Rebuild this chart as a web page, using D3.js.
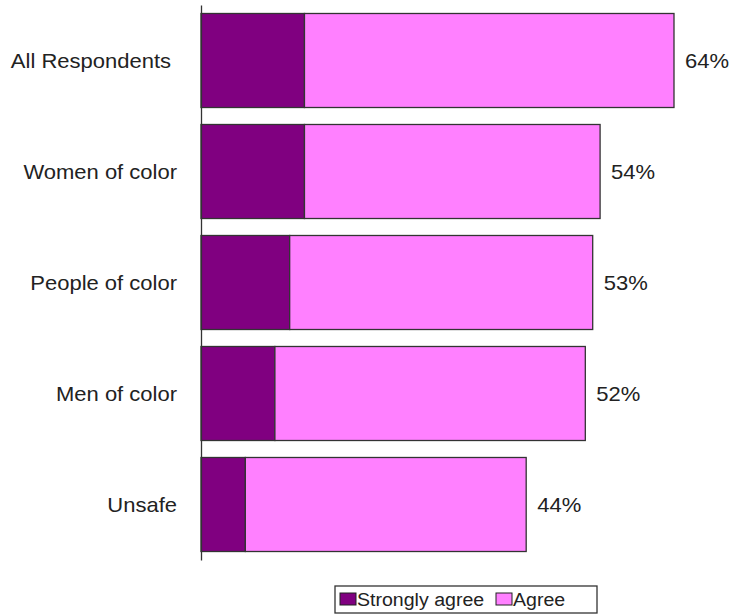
<!DOCTYPE html>
<html>
<head>
<meta charset="utf-8">
<script src="https://cdn.jsdelivr.net/npm/d3@7"></script>
<style>
  html, body { margin: 0; padding: 0; background: #fff; }
  svg { display: block; font-family: Arial, "Liberation Sans", Helvetica, sans-serif; }
</style>
</head>
<body>
<svg id="chart" width="734" height="614"></svg>
<script>
// Groups, top to bottom
const categories = ["All Respondents", "Women of color", "People of color", "Men of color", "Unsafe"];
// Percent who strongly agree and percent who agree (sum = total shown)
const stronglyAgree = [14, 14, 12, 10, 6];
const agree = [50, 40, 41, 42, 38];
const totalLabels = ["64%", "54%", "53%", "52%", "44%"];
const seriesNames = ["Strongly agree", "Agree"];
const seriesColors = ["#800080", "#FF80FF"];

const svg = d3.select("#chart");
const axisX = 201;
const stretch = 1.1; // slightly wide lettering

const x = d3.scaleLinear().domain([0, 64]).range([axisX, 674]);
const y = d3.scaleBand().domain(categories).range([5, 560]).paddingInner(0.153).paddingOuter(0.0765);

const rows = categories.map((c, i) => ({
  cat: c,
  parts: [
    { key: 0, x0: 0, x1: stronglyAgree[i] },
    { key: 1, x0: stronglyAgree[i], x1: stronglyAgree[i] + agree[i] }
  ],
  total: stronglyAgree[i] + agree[i],
  label: totalLabels[i]
}));

const g = svg.append("g");
const row = g.selectAll("g.row").data(rows).join("g").attr("class", "row");

row.selectAll("rect").data(d => d.parts.map(p => ({ ...p, cat: d.cat }))).join("rect")
  .attr("x", d => x(d.x0))
  .attr("y", d => y(d.cat))
  .attr("width", d => x(d.x1) - x(d.x0))
  .attr("height", y.bandwidth())
  .attr("fill", d => seriesColors[d.key])
  .attr("stroke", "#333")
  .attr("stroke-width", 1.3);

// Totals at bar ends
row.append("text")
  .attr("transform", d => `translate(${x(d.total) + 11},${y(d.cat) + y.bandwidth() / 2}) scale(${stretch},1)`)
  .attr("dy", "0.35em")
  .attr("font-size", 20)
  .attr("fill", "#222")
  .text(d => d.label);

// Category axis (line only, labels to the left)
const yAxis = d3.axisLeft(y).tickSize(0).tickFormat(() => "");
const ax = svg.append("g").attr("transform", `translate(${axisX},0)`).call(yAxis);
ax.select(".domain").attr("stroke", "#333").attr("stroke-width", 1.3);
ax.selectAll(".tick").append("text")
  .attr("transform", d => `translate(${(d === "All Respondents" ? 171 : 177) - axisX},0) scale(${stretch},1)`)
  .attr("text-anchor", "end")
  .attr("dy", "0.35em")
  .attr("font-size", 20)
  .attr("fill", "#222")
  .text(d => d);

// Legend
const lg = svg.append("g");
lg.append("rect").attr("x", 335).attr("y", 586).attr("width", 262).attr("height", 27)
  .attr("fill", "#fff").attr("stroke", "#333").attr("stroke-width", 1.3);
const legendItems = [{ x: 340, tx: 357 }, { x: 496, tx: 513 }];
seriesNames.forEach((n, i) => {
  lg.append("rect").attr("x", legendItems[i].x).attr("y", 593).attr("width", 16).attr("height", 12)
    .attr("fill", seriesColors[i]).attr("stroke", "#222").attr("stroke-width", 1);
  lg.append("text").attr("transform", `translate(${legendItems[i].tx},606) scale(1.03,1)`)
    .attr("font-size", 19).attr("fill", "#222").text(n);
});
</script>
</body>
</html>
